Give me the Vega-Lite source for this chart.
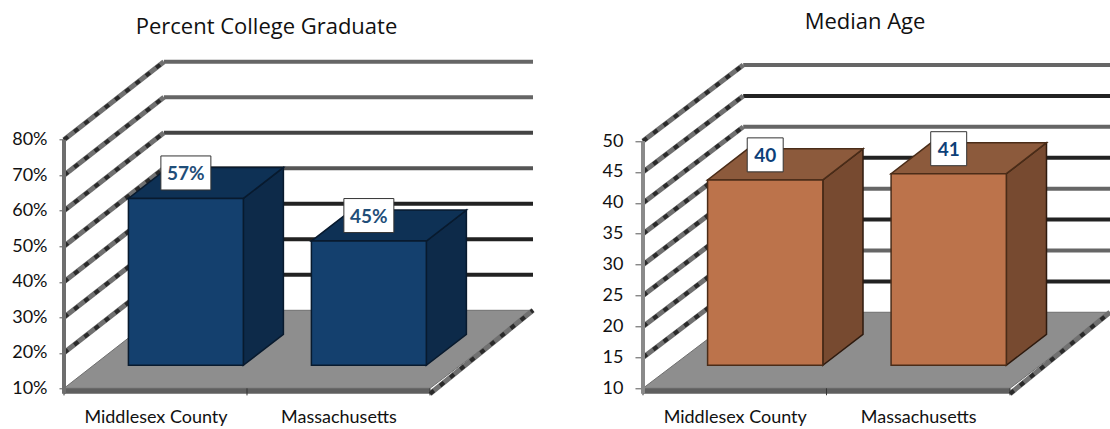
{
  "$schema": "https://vega.github.io/schema/vega-lite/v6.json",
  "background": "white",
  "padding": {"left": 11, "top": 11.3, "right": 0, "bottom": 0},
  "spacing": 54,
  "resolve": {"scale": {"color": "independent"}},
  "config": {
    "view": {"stroke": null},
    "font": "Lato",
    "axis": {"grid": false, "domain": false, "labelFont": "Lato", "labelFontSize": 18, "labelColor": "#111", "title": null, "minExtent": 53, "maxExtent": 53},
    "title": {"font": "Open Sans", "fontSize": 22, "fontWeight": "normal", "color": "#111", "anchor": "middle", "frame": "group"}
  },
  "datasets": {
    "college": [
      {"place": "Middlesex County", "share": 0.57},
      {"place": "Massachusetts", "share": 0.45}
    ],
    "age": [
      {"place": "Middlesex County", "years": 40},
      {"place": "Massachusetts", "years": 41}
    ],
    "collegeLevels": [
      {"level": 0.2}, {"level": 0.3}, {"level": 0.4}, {"level": 0.5},
      {"level": 0.6}, {"level": 0.7}, {"level": 0.8}
    ],
    "ageLevels": [
      {"level": 15}, {"level": 20}, {"level": 25}, {"level": 30},
      {"level": 35}, {"level": 40}, {"level": 45}, {"level": 50}
    ],
    "edges": [{"depth": 0}, {"depth": 1}],
    "slots": [{"slot": 0}, {"slot": 1}, {"slot": 2}]
  },
  "hconcat": [
    {
      "title": {"text": "Percent College Graduate", "dx": -32, "offset": 16},
      "width": 469,
      "height": 340,
      "encoding": {
        "x": {
          "field": "px", "type": "quantitative",
          "scale": {"domain": [0, 2.563], "nice": false, "zero": false},
          "axis": {"values": [0.5, 1.5], "labelExpr": "datum.value < 1 ? 'Middlesex County' : 'Massachusetts'", "tickSize": 0, "labelPadding": 13, "labelAngle": 0}
        },
        "y": {
          "field": "py", "type": "quantitative",
          "scale": {"domain": [0.0803, 1.038], "nice": false, "zero": false},
          "axis": {"values": [0.1, 0.2, 0.3, 0.4, 0.5, 0.6, 0.7, 0.8], "format": ".0%", "tickSize": 5, "tickWidth": 1, "tickColor": "#555", "labelPadding": 12}
        }
      },
      "layer": [
        {
          "data": {"name": "collegeLevels"},
          "transform": [
            {"calculate": "0.546", "as": "px"},
            {"calculate": "2.563", "as": "px2"},
            {"calculate": "datum.level + 0.2197", "as": "py"}
          ],
          "mark": {"type": "rule", "strokeWidth": 4},
          "encoding": {
            "x2": {"field": "px2"},
            "color": {
              "field": "level", "type": "ordinal", "legend": null,
              "scale": {"domain": [0.2, 0.3, 0.4, 0.5, 0.6, 0.7, 0.8], "range": ["#222222", "#222222", "#222222", "#555555", "#444444", "#666666", "#666666"]}
            }
          }
        },
        {
          "data": {"name": "collegeLevels"},
          "transform": [
            {"calculate": "0", "as": "px"},
            {"calculate": "0.546", "as": "px2"},
            {"calculate": "datum.level", "as": "py"},
            {"calculate": "datum.level + 0.2197", "as": "py2"}
          ],
          "mark": {"type": "rule", "strokeWidth": 5, "color": "#707070"},
          "encoding": {"x2": {"field": "px2"}, "y2": {"field": "py2"}}
        },
        {
          "data": {"name": "collegeLevels"},
          "transform": [
            {"calculate": "0", "as": "px"},
            {"calculate": "0.546", "as": "px2"},
            {"calculate": "datum.level", "as": "py"},
            {"calculate": "datum.level + 0.2197", "as": "py2"}
          ],
          "mark": {"type": "rule", "strokeWidth": 4, "color": "#2a2a2a", "strokeDash": [5, 8]},
          "encoding": {"x2": {"field": "px2"}, "y2": {"field": "py2"}}
        },
        {
          "data": {"name": "edges"},
          "transform": [
            {"calculate": "datum.depth * 0.546", "as": "px"},
            {"calculate": "2 + datum.depth * 0.563", "as": "px2"},
            {"calculate": "0.1 + datum.depth * 0.2197", "as": "py"}
          ],
          "mark": {"type": "area", "orient": "horizontal", "color": "#8e8e8e", "stroke": "#6e6e6e", "strokeWidth": 1},
          "encoding": {"x2": {"field": "px2"}}
        },
        {
          "data": {"values": [{"edge": "front"}]},
          "transform": [
            {"calculate": "0", "as": "px"},
            {"calculate": "2", "as": "px2"},
            {"calculate": "0.1", "as": "py"},
            {"calculate": "0.0845", "as": "py2"}
          ],
          "mark": {"type": "rect", "color": "#5f5f5f"},
          "encoding": {"x2": {"field": "px2"}, "y2": {"field": "py2"}}
        },
        {
          "data": {"values": [{"edge": "right"}]},
          "transform": [
            {"calculate": "2", "as": "px"},
            {"calculate": "2.563", "as": "px2"},
            {"calculate": "0.0845", "as": "py"},
            {"calculate": "0.3197", "as": "py2"}
          ],
          "mark": {"type": "rule", "strokeWidth": 5, "color": "#707070"},
          "encoding": {"x2": {"field": "px2"}, "y2": {"field": "py2"}}
        },
        {
          "data": {"values": [{"edge": "right"}]},
          "transform": [
            {"calculate": "2", "as": "px"},
            {"calculate": "2.563", "as": "px2"},
            {"calculate": "0.0845", "as": "py"},
            {"calculate": "0.3197", "as": "py2"}
          ],
          "mark": {"type": "rule", "strokeWidth": 4, "color": "#2a2a2a", "strokeDash": [5, 8]},
          "encoding": {"x2": {"field": "px2"}, "y2": {"field": "py2"}}
        },
        {
          "data": {"name": "slots"},
          "transform": [
            {"calculate": "datum.slot", "as": "px"},
            {"calculate": "0.1", "as": "py"},
            {"calculate": "0.08", "as": "py2"}
          ],
          "mark": {"type": "rule", "strokeWidth": 1, "color": "#333333"},
          "encoding": {"y2": {"field": "py2"}}
        },
        {
          "data": {"values": [{"edge": "wall"}]},
          "transform": [
            {"calculate": "0", "as": "px"},
            {"calculate": "0.0845", "as": "py"},
            {"calculate": "0.8", "as": "py2"}
          ],
          "mark": {"type": "rule", "strokeWidth": 4, "color": "#6e6e6e"},
          "encoding": {"y2": {"field": "py2"}}
        },
        {
          "data": {"name": "college"},
          "transform": [
            {"calculate": "indexof(['Middlesex County', 'Massachusetts'], datum.place)", "as": "slot"},
            {"calculate": "[0, 1]", "as": "d"},
            {"flatten": ["d"]},
            {"calculate": "datum.slot + 0.98 + datum.d * 0.219", "as": "px"},
            {"calculate": "datum.share + 0.0648 + datum.d * 0.0873", "as": "py"},
            {"calculate": "0.1648 + datum.d * 0.0873", "as": "py2"}
          ],
          "mark": {"type": "area", "color": "#0d2a49", "stroke": "#081a2e", "strokeWidth": 1.5},
          "encoding": {"y2": {"field": "py2"}, "detail": {"field": "place"}}
        },
        {
          "data": {"name": "college"},
          "transform": [
            {"calculate": "indexof(['Middlesex County', 'Massachusetts'], datum.place)", "as": "slot"},
            {"calculate": "[0, 1]", "as": "d"},
            {"flatten": ["d"]},
            {"calculate": "datum.slot + 0.352 + datum.d * 0.219", "as": "px"},
            {"calculate": "datum.slot + 0.98 + datum.d * 0.219", "as": "px2"},
            {"calculate": "datum.share + 0.0648 + datum.d * 0.0873", "as": "py"}
          ],
          "mark": {"type": "area", "orient": "horizontal", "color": "#0e3155", "stroke": "#081a2e", "strokeWidth": 1.5},
          "encoding": {"x2": {"field": "px2"}, "detail": {"field": "place"}}
        },
        {
          "data": {"name": "college"},
          "transform": [
            {"calculate": "indexof(['Middlesex County', 'Massachusetts'], datum.place)", "as": "slot"},
            {"calculate": "datum.slot + 0.352", "as": "px"},
            {"calculate": "datum.slot + 0.98", "as": "px2"},
            {"calculate": "datum.share + 0.0648", "as": "py"},
            {"calculate": "0.1648", "as": "py2"}
          ],
          "mark": {"type": "rect", "color": "#14406e", "stroke": "#081a2e", "strokeWidth": 1.5},
          "encoding": {"x2": {"field": "px2"}, "y2": {"field": "py2"}}
        },
        {
          "data": {"name": "college"},
          "transform": [
            {"calculate": "indexof(['Middlesex County', 'Massachusetts'], datum.place)", "as": "slot"},
            {"calculate": "datum.slot + 0.666 - 0.1366", "as": "px"},
            {"calculate": "datum.slot + 0.666 + 0.1366", "as": "px2"},
            {"calculate": "datum.share + 0.0648 + 0.0718 - 0.0479", "as": "py"},
            {"calculate": "datum.share + 0.0648 + 0.0718 + 0.0479", "as": "py2"}
          ],
          "mark": {"type": "rect", "color": "white", "stroke": "#333333", "strokeWidth": 1},
          "encoding": {"x2": {"field": "px2"}, "y2": {"field": "py2"}}
        },
        {
          "data": {"name": "college"},
          "transform": [
            {"calculate": "indexof(['Middlesex County', 'Massachusetts'], datum.place)", "as": "slot"},
            {"calculate": "datum.slot + 0.666", "as": "px"},
            {"calculate": "datum.share + 0.0648 + 0.0718", "as": "py"}
          ],
          "mark": {"type": "text", "font": "Lato", "fontSize": 19, "fontWeight": "bold", "color": "#1f4e79", "align": "center", "baseline": "middle", "dy": 1.5},
          "encoding": {"text": {"field": "share", "type": "quantitative", "format": ".0%"}}
        }
      ]
    },
    {
      "title": {"text": "Median Age", "dx": -11.5, "offset": 21},
      "width": 467,
      "height": 340,
      "encoding": {
        "x": {
          "field": "px", "type": "quantitative",
          "scale": {"domain": [0, 2.545], "nice": false, "zero": false},
          "axis": {"values": [0.5, 1.5], "labelExpr": "datum.value < 1 ? 'Middlesex County' : 'Massachusetts'", "tickSize": 0, "labelPadding": 13, "labelAngle": 0}
        },
        "y": {
          "field": "py", "type": "quantitative",
          "scale": {"domain": [8.867, 63.88], "nice": false, "zero": false},
          "axis": {"values": [10, 15, 20, 25, 30, 35, 40, 45, 50], "tickSize": 8, "tickWidth": 1, "tickColor": "#555", "labelPadding": 12}
        }
      },
      "layer": [
        {
          "data": {"name": "ageLevels"},
          "transform": [
            {"calculate": "0.546", "as": "px"},
            {"calculate": "2.545", "as": "px2"},
            {"calculate": "datum.level + 12.3", "as": "py"}
          ],
          "mark": {"type": "rule", "strokeWidth": 4},
          "encoding": {
            "x2": {"field": "px2"},
            "color": {
              "field": "level", "type": "ordinal", "legend": null,
              "scale": {"domain": [15, 20, 25, 30, 35, 40, 45, 50], "range": ["#222222", "#666666", "#222222", "#666666", "#222222", "#666666", "#222222", "#666666"]}
            }
          }
        },
        {
          "data": {"name": "ageLevels"},
          "transform": [
            {"calculate": "0", "as": "px"},
            {"calculate": "0.546", "as": "px2"},
            {"calculate": "datum.level", "as": "py"},
            {"calculate": "datum.level + 12.3", "as": "py2"}
          ],
          "mark": {"type": "rule", "strokeWidth": 5, "color": "#707070"},
          "encoding": {"x2": {"field": "px2"}, "y2": {"field": "py2"}}
        },
        {
          "data": {"name": "ageLevels"},
          "transform": [
            {"calculate": "0", "as": "px"},
            {"calculate": "0.546", "as": "px2"},
            {"calculate": "datum.level", "as": "py"},
            {"calculate": "datum.level + 12.3", "as": "py2"}
          ],
          "mark": {"type": "rule", "strokeWidth": 4, "color": "#2a2a2a", "strokeDash": [5, 8]},
          "encoding": {"x2": {"field": "px2"}, "y2": {"field": "py2"}}
        },
        {
          "data": {"name": "edges"},
          "transform": [
            {"calculate": "datum.depth * 0.546", "as": "px"},
            {"calculate": "2 + datum.depth * 0.545", "as": "px2"},
            {"calculate": "10 + datum.depth * 12.3", "as": "py"}
          ],
          "mark": {"type": "area", "orient": "horizontal", "color": "#8e8e8e", "stroke": "#6e6e6e", "strokeWidth": 1},
          "encoding": {"x2": {"field": "px2"}}
        },
        {
          "data": {"values": [{"edge": "front"}]},
          "transform": [
            {"calculate": "0", "as": "px"},
            {"calculate": "2", "as": "px2"},
            {"calculate": "10", "as": "py"},
            {"calculate": "9.12", "as": "py2"}
          ],
          "mark": {"type": "rect", "color": "#5f5f5f"},
          "encoding": {"x2": {"field": "px2"}, "y2": {"field": "py2"}}
        },
        {
          "data": {"values": [{"edge": "right"}]},
          "transform": [
            {"calculate": "2", "as": "px"},
            {"calculate": "2.545", "as": "px2"},
            {"calculate": "9.12", "as": "py"},
            {"calculate": "22.3", "as": "py2"}
          ],
          "mark": {"type": "rule", "strokeWidth": 5, "color": "#707070"},
          "encoding": {"x2": {"field": "px2"}, "y2": {"field": "py2"}}
        },
        {
          "data": {"values": [{"edge": "right"}]},
          "transform": [
            {"calculate": "2", "as": "px"},
            {"calculate": "2.545", "as": "px2"},
            {"calculate": "9.12", "as": "py"},
            {"calculate": "22.3", "as": "py2"}
          ],
          "mark": {"type": "rule", "strokeWidth": 4, "color": "#2a2a2a", "strokeDash": [5, 8]},
          "encoding": {"x2": {"field": "px2"}, "y2": {"field": "py2"}}
        },
        {
          "data": {"name": "slots"},
          "transform": [
            {"calculate": "datum.slot", "as": "px"},
            {"calculate": "10", "as": "py"},
            {"calculate": "8.87", "as": "py2"}
          ],
          "mark": {"type": "rule", "strokeWidth": 1, "color": "#333333"},
          "encoding": {"y2": {"field": "py2"}}
        },
        {
          "data": {"values": [{"edge": "wall"}]},
          "transform": [
            {"calculate": "0", "as": "px"},
            {"calculate": "9.12", "as": "py"},
            {"calculate": "50", "as": "py2"}
          ],
          "mark": {"type": "rule", "strokeWidth": 4, "color": "#8a8a8a"},
          "encoding": {"y2": {"field": "py2"}}
        },
        {
          "data": {"name": "age"},
          "transform": [
            {"calculate": "indexof(['Middlesex County', 'Massachusetts'], datum.place)", "as": "slot"},
            {"calculate": "[0, 1]", "as": "d"},
            {"flatten": ["d"]},
            {"calculate": "datum.slot + 0.98 + datum.d * 0.219", "as": "px"},
            {"calculate": "datum.years + 3.72 + datum.d * 5.02", "as": "py"},
            {"calculate": "13.72 + datum.d * 5.02", "as": "py2"}
          ],
          "mark": {"type": "area", "color": "#774a30", "stroke": "#2e1a0e", "strokeWidth": 1.5},
          "encoding": {"y2": {"field": "py2"}, "detail": {"field": "place"}}
        },
        {
          "data": {"name": "age"},
          "transform": [
            {"calculate": "indexof(['Middlesex County', 'Massachusetts'], datum.place)", "as": "slot"},
            {"calculate": "[0, 1]", "as": "d"},
            {"flatten": ["d"]},
            {"calculate": "datum.slot + 0.352 + datum.d * 0.219", "as": "px"},
            {"calculate": "datum.slot + 0.98 + datum.d * 0.219", "as": "px2"},
            {"calculate": "datum.years + 3.72 + datum.d * 5.02", "as": "py"}
          ],
          "mark": {"type": "area", "orient": "horizontal", "color": "#8c5a3c", "stroke": "#4a2c18", "strokeWidth": 1.5},
          "encoding": {"x2": {"field": "px2"}, "detail": {"field": "place"}}
        },
        {
          "data": {"name": "age"},
          "transform": [
            {"calculate": "indexof(['Middlesex County', 'Massachusetts'], datum.place)", "as": "slot"},
            {"calculate": "datum.slot + 0.352", "as": "px"},
            {"calculate": "datum.slot + 0.98", "as": "px2"},
            {"calculate": "datum.years + 3.72", "as": "py"},
            {"calculate": "13.72", "as": "py2"}
          ],
          "mark": {"type": "rect", "color": "#bc734b", "stroke": "#4a2c18", "strokeWidth": 1.5},
          "encoding": {"x2": {"field": "px2"}, "y2": {"field": "py2"}}
        },
        {
          "data": {"name": "age"},
          "transform": [
            {"calculate": "indexof(['Middlesex County', 'Massachusetts'], datum.place)", "as": "slot"},
            {"calculate": "datum.slot + 0.666 - 0.098", "as": "px"},
            {"calculate": "datum.slot + 0.666 + 0.098", "as": "px2"},
            {"calculate": "datum.years + 3.72 + 4.05 - 2.75", "as": "py"},
            {"calculate": "datum.years + 3.72 + 4.05 + 2.75", "as": "py2"}
          ],
          "mark": {"type": "rect", "color": "white", "stroke": "#333333", "strokeWidth": 1},
          "encoding": {"x2": {"field": "px2"}, "y2": {"field": "py2"}}
        },
        {
          "data": {"name": "age"},
          "transform": [
            {"calculate": "indexof(['Middlesex County', 'Massachusetts'], datum.place)", "as": "slot"},
            {"calculate": "datum.slot + 0.666", "as": "px"},
            {"calculate": "datum.years + 3.72 + 4.05", "as": "py"}
          ],
          "mark": {"type": "text", "font": "Lato", "fontSize": 19, "fontWeight": "bold", "color": "#0d3f78", "align": "center", "baseline": "middle", "dy": 1.5},
          "encoding": {"text": {"field": "years", "type": "quantitative"}}
        }
      ]
    }
  ]
}
